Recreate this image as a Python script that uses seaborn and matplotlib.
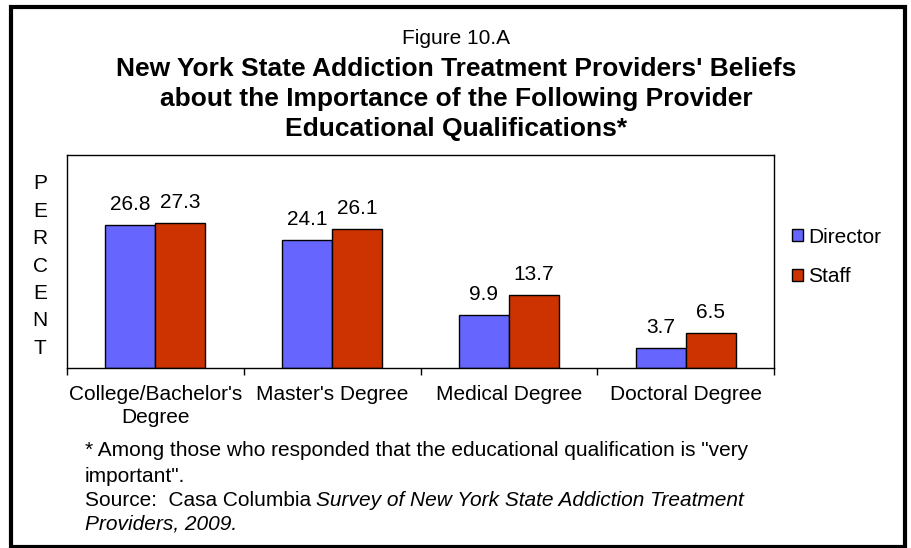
import matplotlib
matplotlib.use("Agg")
import matplotlib.pyplot as plt
import matplotlib.patches as mpatches
import seaborn as sns
import pandas as pd

categories = ["College/Bachelor's\nDegree", "Master's Degree", "Medical Degree", "Doctoral Degree"]
series_names = ["Director", "Staff"]
director = [26.8, 24.1, 9.9, 3.7]
staff = [27.3, 26.1, 13.7, 6.5]
colors = ["#6666FF", "#CC3300"]

df = pd.DataFrame({
    "category": categories * 2,
    "group": [series_names[0]] * 4 + [series_names[1]] * 4,
    "value": director + staff,
})

sns.set_theme(style="white")
plt.rcParams["font.family"] = ["Liberation Sans", "DejaVu Sans"]
plt.rcParams["text.color"] = "black"
plt.rcParams["xtick.color"] = "black"

W, H = 911, 548
FS = 15
fig = plt.figure(figsize=(W / 100, H / 100), dpi=100)
ax = fig.add_axes([67 / W, 1 - 368 / H, (774 - 67) / W, (368 - 155) / H])

sns.barplot(data=df, x="category", y="value", hue="group", order=categories,
            hue_order=series_names, palette=colors, width=0.565, gap=0,
            edgecolor="black", linewidth=1, saturation=1, ax=ax, legend=True)

for cont in ax.containers:
    ax.bar_label(cont, fmt="%.1f", padding=8, fontsize=FS, color="black")

ax.set_ylim(0, 40)
ax.set_xlim(-0.5, 3.5)
ax.set_yticks([])
ax.set_xlabel("")
ax.set_ylabel("")
for s in ax.spines.values():
    s.set_visible(True)
    s.set_color("black")
    s.set_linewidth(1)
ax.tick_params(axis="x", which="major", length=0, labelsize=FS, pad=12.5, colors="black")
ax.set_xticks([-0.5, 0.5, 1.5, 2.5, 3.5], minor=True)
ax.tick_params(axis="x", which="minor", length=5, width=1, direction="out", color="black", bottom=True)
for lbl in ax.get_xticklabels():
    lbl.set_linespacing(1.26)

leg = ax.legend(loc="center left", bbox_to_anchor=(777 / W, 1 - 257 / H),
                bbox_transform=fig.transFigure, frameon=False, fontsize=FS,
                handlelength=0.55, handleheight=0.55, handletextpad=0.25,
                labelspacing=1.0, borderpad=0.2)
for t in leg.get_texts():
    t.set_color("black")

fig.text(40 / W, 1 - 266 / H, "\n".join("PERCENT"), ha="center", va="center",
         fontsize=FS, linespacing=1.56)

fig.text(456 / W, 1 - 38 / H, "Figure 10.A", ha="center", va="center", fontsize=FS)
fig.text(456 / W, 1 - 99 / H,
         "New York State Addiction Treatment Providers' Beliefs\n"
         "about the Importance of the Following Provider\n"
         "Educational Qualifications*",
         ha="center", va="center", fontsize=19, fontweight="bold", linespacing=1.30)

fig.text(85 / W, 1 - 450 / H,
         "* Among those who responded that the educational qualification is \"very",
         ha="left", va="center", fontsize=FS)
fig.text(85 / W, 1 - 476 / H, "important\".", ha="left", va="center", fontsize=FS)
src = fig.text(85 / W, 1 - 500 / H, "Source:  Casa Columbia", ha="left", va="center", fontsize=FS)
fig.canvas.draw()
bb = src.get_window_extent(fig.canvas.get_renderer())
fig.text(bb.x1 / W + 5 / W, 1 - 500 / H, "Survey of New York State Addiction Treatment",
         ha="left", va="center", fontsize=FS, style="italic")
fig.text(85 / W, 1 - 524 / H, "Providers, 2009.", ha="left", va="center",
         fontsize=FS, style="italic")

border = mpatches.Rectangle((11 / W, 1 - 547 / H), (905 - 11) / W, (547 - 7) / H,
                            transform=fig.transFigure, fill=False,
                            edgecolor="black", linewidth=3, clip_on=False)
fig.patches.append(border)

fig.savefig("out.png", dpi=100, facecolor="white")
